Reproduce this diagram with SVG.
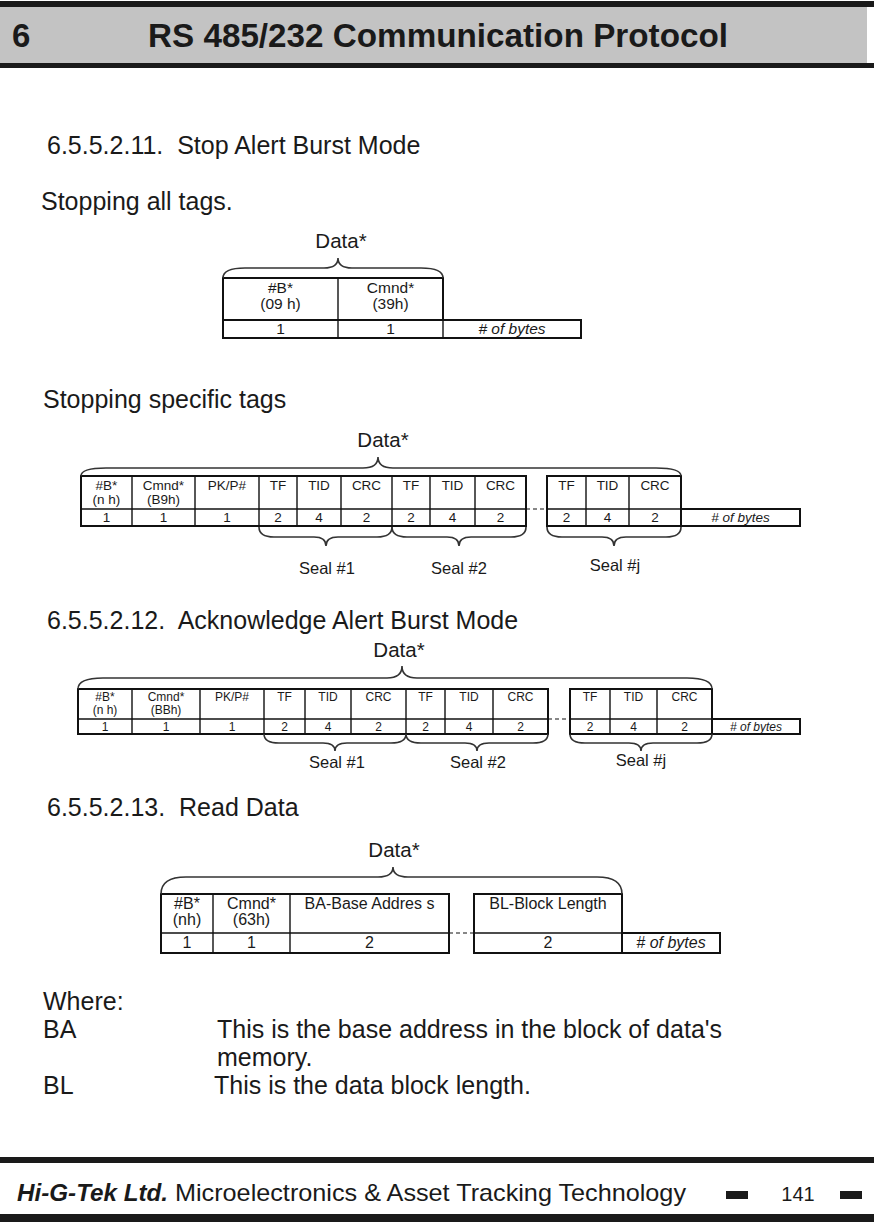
<svg xmlns="http://www.w3.org/2000/svg" width="874" height="1224" viewBox="0 0 874 1224">
<style>
text{font-family:"Liberation Sans",Arial,sans-serif;fill:#1a1a1a;white-space:pre}
.body{font-size:25px}
.c{text-anchor:middle}
.t1{font-size:15.5px}
.t2{font-size:13.5px}
.t3{font-size:12px}
.t4{font-size:16px}
.it{font-style:italic}
.data{font-size:20.5px;text-anchor:middle}
.seal{font-size:16.5px;text-anchor:middle}
.box{fill:none;stroke:#111;stroke-width:2}
.ln{fill:none;stroke:#111;stroke-width:1.4}
.brace{fill:none;stroke:#333;stroke-width:1.6}
.dash{fill:none;stroke:#111;stroke-width:1.2;stroke-dasharray:4 3}
</style>
<rect width="874" height="1224" fill="#fff"/>
<g id="header">
<rect x="0" y="1" width="874" height="6" fill="#1a1a1a"/>
<rect x="0" y="7" width="867" height="56" fill="#c3c3c3"/>
<rect x="0" y="63" width="874" height="5" fill="#1a1a1a"/>
<text x="12" y="47" font-size="33" font-weight="bold">6</text>
<text x="148" y="47" font-size="33" font-weight="bold" textLength="580" lengthAdjust="spacingAndGlyphs">RS 485/232 Communication Protocol</text>
</g>
<g id="texts">
<text class="body" x="47" y="154">6.5.5.2.11.  Stop Alert Burst Mode</text>
<text class="body" x="41" y="210">Stopping all tags.</text>
<text class="body" x="43" y="408">Stopping specific tags</text>
<text class="body" x="47" y="629">6.5.5.2.12.  Acknowledge Alert Burst Mode</text>
<text class="body" x="47" y="816">6.5.5.2.13.  Read Data</text>
<text class="body" x="43" y="1010">Where:</text>
<text class="body" x="43" y="1038">BA</text>
<text class="body" x="217" y="1038">This is the base address in the block of data's</text>
<text class="body" x="217" y="1066">memory.</text>
<text class="body" x="43" y="1094">BL</text>
<text class="body" x="214" y="1094">This is the data block length.</text>
</g>
<g id="table1">
<rect class="box" x="223" y="278" width="220" height="42"/>
<rect class="box" x="223" y="320" width="358" height="18"/>
<line class="ln" x1="338" y1="278" x2="338" y2="338"/>
<line class="ln" x1="443" y1="320" x2="443" y2="338"/>
<text class="t1 c" x="280.5" y="293">#B*</text>
<text class="t1 c" x="280.5" y="309">(09 h)</text>
<text class="t1 c" x="390.5" y="293">Cmnd*</text>
<text class="t1 c" x="390.5" y="309">(39h)</text>
<text class="t1 c" x="280.5" y="334">1</text>
<text class="t1 c" x="390.5" y="334">1</text>
<text class="t1 c it" x="512" y="334"># of bytes</text>
<text class="data" x="341" y="248">Data*</text>
</g>
<g id="table2">
<rect class="box" x="81" y="476" width="445" height="50"/>
<rect class="box" x="547" y="476" width="134" height="50"/>
<rect class="box" x="681" y="509" width="119" height="17"/>
<line class="ln" x1="81" y1="509" x2="526" y2="509"/>
<line class="ln" x1="547" y1="509" x2="681" y2="509"/>
<path class="ln" d="M132,476V526M195,476V526M259,476V526M297,476V526M341,476V526M392,476V526M430,476V526M475,476V526M586,476V526M629,476V526"/>
<g class="t2 c">
<text x="106.5" y="490">#B*</text><text x="106.5" y="504">(n h)</text>
<text x="163.5" y="490">Cmnd*</text><text x="163.5" y="504">(B9h)</text>
<text x="227" y="490">PK/P#</text>
<text x="278" y="490">TF</text><text x="319" y="490">TID</text><text x="366.5" y="490">CRC</text>
<text x="411" y="490">TF</text><text x="452.5" y="490">TID</text><text x="500.5" y="490">CRC</text>
<text x="566.5" y="490">TF</text><text x="607.5" y="490">TID</text><text x="655" y="490">CRC</text>
<text x="106.5" y="522">1</text><text x="163.5" y="522">1</text><text x="227" y="522">1</text>
<text x="278" y="522">2</text><text x="319" y="522">4</text><text x="366.5" y="522">2</text>
<text x="411" y="522">2</text><text x="452.5" y="522">4</text><text x="500.5" y="522">2</text>
<text x="566.5" y="522">2</text><text x="607.5" y="522">4</text><text x="655" y="522">2</text>
<text class="it" x="740.5" y="522"># of bytes</text>
</g>
<text class="data" x="383" y="447">Data*</text>
<text class="seal" x="327" y="574">Seal #1</text>
<text class="seal" x="459" y="574">Seal #2</text>
<text class="seal" x="615" y="571">Seal #j</text>
</g>
<g id="table3">
<rect class="box" x="78" y="689" width="470" height="45"/>
<rect class="box" x="570" y="689" width="142" height="45"/>
<rect class="box" x="712" y="719" width="88" height="15"/>
<line class="ln" x1="78" y1="719" x2="548" y2="719"/>
<line class="ln" x1="570" y1="719" x2="712" y2="719"/>
<path class="ln" d="M132,689V734M200,689V734M264,689V734M305,689V734M351,689V734M406,689V734M445,689V734M493,689V734M610,689V734M657,689V734"/>
<g class="t3 c">
<text x="105" y="701">#B*</text><text x="105" y="714">(n h)</text>
<text x="166" y="701">Cmnd*</text><text x="166" y="714">(BBh)</text>
<text x="232" y="701">PK/P#</text>
<text x="284.5" y="701">TF</text><text x="328" y="701">TID</text><text x="378.5" y="701">CRC</text>
<text x="425.5" y="701">TF</text><text x="469" y="701">TID</text><text x="520.5" y="701">CRC</text>
<text x="590" y="701">TF</text><text x="633.5" y="701">TID</text><text x="684.5" y="701">CRC</text>
<text x="105" y="730.5">1</text><text x="166" y="730.5">1</text><text x="232" y="730.5">1</text>
<text x="284.5" y="730.5">2</text><text x="328" y="730.5">4</text><text x="378.5" y="730.5">2</text>
<text x="425.5" y="730.5">2</text><text x="469" y="730.5">4</text><text x="520.5" y="730.5">2</text>
<text x="590" y="730.5">2</text><text x="633.5" y="730.5">4</text><text x="684.5" y="730.5">2</text>
<text class="it" x="756" y="730.5"># of bytes</text>
</g>
<text class="data" x="399" y="657">Data*</text>
<text class="seal" x="337" y="768">Seal #1</text>
<text class="seal" x="478" y="768">Seal #2</text>
<text class="seal" x="641" y="766">Seal #j</text>
</g>
<g id="table4">
<rect class="box" x="161" y="894" width="288" height="59"/>
<rect class="box" x="474" y="894" width="148" height="59"/>
<rect class="box" x="622" y="933" width="98" height="20"/>
<line class="ln" x1="161" y1="933" x2="449" y2="933"/>
<line class="ln" x1="474" y1="933" x2="622" y2="933"/>
<path class="ln" d="M213,894V953M290,894V953"/>
<g class="t4 c">
<text x="187" y="909">#B*</text><text x="187" y="925">(nh)</text>
<text x="251.5" y="909">Cmnd*</text><text x="251.5" y="925">(63h)</text>
<text x="369.5" y="909">BA-Base Addres s</text>
<text x="548" y="909">BL-Block Length</text>
<text x="187" y="948">1</text><text x="251.5" y="948">1</text><text x="369.5" y="948">2</text>
<text x="548" y="948">2</text>
<text class="it" x="671" y="948"># of bytes</text>
</g>
<text class="data" x="394" y="857">Data*</text>
</g>
<g id="connectors">
<path class="brace" d="M223,278 Q223,268 245,268 L324,268 Q338,268 338,258 Q338,268 352,268 L421,268 Q443,268 443,278"/>
<path class="brace" d="M81,476 Q81,468 106,468 L363,468 Q378,468 378,457 Q378,468 393,468 L656,468 Q681,468 681,476"/>
<path class="brace" d="M259,527 Q259,537 274,537 L314,537 Q326,537 326,546 Q326,537 338,537 L377,537 Q392,537 392,527"/>
<path class="brace" d="M392,527 Q392,537 407,537 L447,537 Q459,537 459,546 Q459,537 471,537 L511,537 Q526,537 526,527"/>
<path class="brace" d="M547,527 Q547,537 562,537 L602,537 Q614,537 614,546 Q614,537 626,537 L666,537 Q681,537 681,527"/>
<path class="brace" d="M78,689 Q78,678 103,678 L387,678 Q402,678 402,666 Q402,678 417,678 L687,678 Q712,678 712,689"/>
<path class="brace" d="M264,734 Q264,743 279,743 L323,743 Q335,743 335,751 Q335,743 347,743 L391,743 Q406,743 406,734"/>
<path class="brace" d="M406,734 Q406,743 421,743 L465,743 Q477,743 477,751 Q477,743 489,743 L533,743 Q548,743 548,734"/>
<path class="brace" d="M570,734 Q570,743 585,743 L629,743 Q641,743 641,751 Q641,743 653,743 L697,743 Q712,743 712,734"/>
<path class="brace" d="M161,894 Q161,877 186,877 L378,877 Q393,877 393,867 Q393,877 408,877 L597,877 Q622,877 622,894"/>
<line class="dash" x1="526" y1="509" x2="547" y2="509"/>
<line class="dash" x1="548" y1="719" x2="570" y2="719"/>
<line class="dash" x1="449" y1="933" x2="474" y2="933"/>
</g>
<g id="footer">
<rect x="0" y="1157" width="874" height="6" fill="#1a1a1a"/>
<rect x="0" y="1214" width="874" height="8" fill="#1a1a1a"/>
<text x="17" y="1201" font-size="24" font-weight="bold" font-style="italic" textLength="151" lengthAdjust="spacingAndGlyphs">Hi-G-Tek Ltd.</text>
<text x="175" y="1201" font-size="24" textLength="511" lengthAdjust="spacingAndGlyphs">Microelectronics &amp; Asset Tracking Technology</text>
<rect x="726" y="1191" width="22" height="8" fill="#1a1a1a"/>
<text x="798" y="1201" font-size="20" text-anchor="middle">141</text>
<rect x="840" y="1191" width="22" height="8" fill="#1a1a1a"/>
</g>
</svg>
